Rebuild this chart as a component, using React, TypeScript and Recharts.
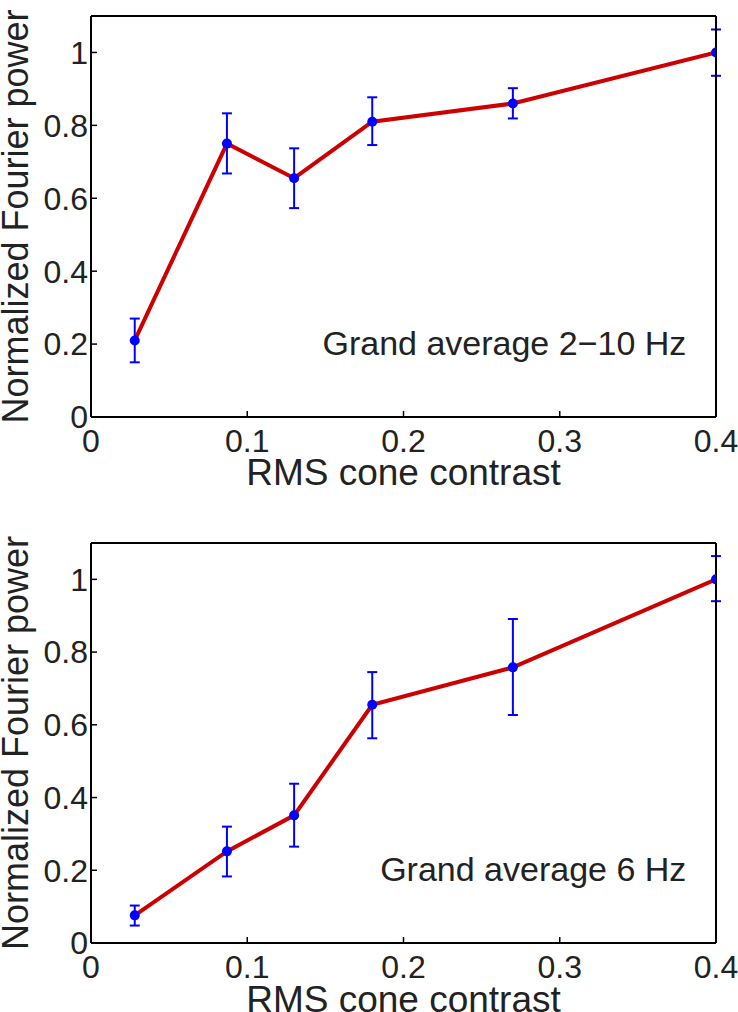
import React from "react";
import {
  ComposedChart,
  Line,
  Scatter,
  ErrorBar,
  XAxis,
  YAxis,
  ReferenceDot,
  Label,
} from "recharts";

// RMS cone contrast levels (shared by both panels)
const contrast = [0.028, 0.087, 0.13, 0.18, 0.27, 0.4];

// Grand average 2-10 Hz
const powerBroad = [0.21, 0.75, 0.655, 0.81, 0.86, 1.0];
const lowerBroad = [0.15, 0.668, 0.573, 0.746, 0.819, 0.936];
const upperBroad = [0.27, 0.833, 0.737, 0.877, 0.902, 1.063];

// Grand average 6 Hz
const power6 = [0.076, 0.252, 0.351, 0.655, 0.758, 1.0];
const lower6 = [0.048, 0.183, 0.265, 0.563, 0.627, 0.94];
const upper6 = [0.103, 0.32, 0.438, 0.745, 0.891, 1.064];

const xTicks = [0, 0.1, 0.2, 0.3, 0.4];
const yTicks = [0, 0.2, 0.4, 0.6, 0.8, 1];

const RED = "#cc0000";
const BLUE = "#0000ff";
const INK = "#222";

function buildRows(power: number[], lower: number[], upper: number[]) {
  return contrast.map((x, i) => ({
    x,
    y: power[i],
    err: [power[i] - lower[i], upper[i] - power[i]],
  }));
}

const axisStroke = { stroke: "#000", strokeWidth: 2 };
const tickStroke = { stroke: "#000", strokeWidth: 1.5 };
const tickText = { fill: INK, fontSize: 32 };

type PanelProps = {
  rows: { x: number; y: number; err: number[] }[];
  note: string;
  height: number;
  top: number;
  axisHeight: number;
  labelOffset: number;
};

function Panel({ rows, note, height, top, axisHeight, labelOffset }: PanelProps) {
  return (
    <ComposedChart
      width={738}
      height={height}
      data={rows}
      margin={{ top: top - 1, right: 21, bottom: 0, left: 0 }}
    >
      <XAxis
        type="number"
        dataKey="x"
        domain={[0, 0.4]}
        ticks={xTicks}
        allowDataOverflow
        height={axisHeight}
        tickSize={-6}
        tickMargin={18}
        axisLine={axisStroke}
        tickLine={tickStroke}
        tick={tickText}
      >
        <Label
          content={(p: any) => {
            const vb = p.viewBox;
            return (
              <text
                x={vb.x + vb.width / 2}
                y={vb.y + labelOffset}
                textAnchor="middle"
                fontSize={37}
                fill={INK}
              >
                RMS cone contrast
              </text>
            );
          }}
        />
      </XAxis>
      <XAxis
        xAxisId="top"
        orientation="top"
        type="number"
        domain={[0, 0.4]}
        ticks={xTicks}
        allowDataOverflow
        height={1}
        tickSize={-6}
        axisLine={axisStroke}
        tickLine={tickStroke}
        tick={false}
      />
      <YAxis
        type="number"
        domain={[0, 1.1]}
        ticks={yTicks}
        allowDataOverflow
        width={91}
        tickSize={-6}
        tickMargin={9}
        axisLine={axisStroke}
        tickLine={tickStroke}
        tick={tickText}
      >
        <Label
          content={(p: any) => {
            const vb = p.viewBox;
            const cx = vb.x + 28;
            const cy = vb.y + vb.height / 2;
            return (
              <text
                x={cx}
                y={cy}
                transform={`rotate(-90 ${cx} ${cy})`}
                textAnchor="middle"
                fontSize={36}
                fill={INK}
              >
                Normalized Fourier power
              </text>
            );
          }}
        />
      </YAxis>
      <YAxis
        yAxisId="right"
        orientation="right"
        type="number"
        domain={[0, 1.1]}
        ticks={yTicks}
        allowDataOverflow
        width={1}
        tickSize={-6}
        axisLine={axisStroke}
        tickLine={tickStroke}
        tick={false}
      />
      <Line
        dataKey="y"
        type="linear"
        stroke={RED}
        strokeWidth={4}
        dot={false}
        activeDot={false}
        isAnimationActive={false}
      />
      <Scatter
        dataKey="y"
        fill={BLUE}
        isAnimationActive={false}
        shape={(p: any) => <circle cx={p.cx} cy={p.cy} r={5} fill={BLUE} />}
      >
        <ErrorBar
          dataKey="err"
          direction="y"
          width={5}
          stroke={BLUE}
          strokeWidth={2}
          isAnimationActive={false}
        />
      </Scatter>
      <ReferenceDot
        x={0.381}
        y={0.17}
        r={1}
        fill="none"
        stroke="none"
        label={
          <Label
            content={(p: any) => {
              const vb = p.viewBox;
              return (
                <text
                  x={vb.x + (vb.width || 0) / 2}
                  y={vb.y + (vb.height || 0) / 2}
                  textAnchor="end"
                  fontSize={34}
                  fill={INK}
                >
                  {note}
                </text>
              );
            }}
          />
        }
      />
    </ComposedChart>
  );
}

export default function App() {
  return (
    <div
      style={{
        position: "absolute",
        left: 0,
        top: 0,
        width: 738,
        height: 1012,
        background: "#fff",
        fontFamily: "'Liberation Sans', Arial, sans-serif",
        overflow: "hidden",
      }}
    >
      <Panel
        rows={buildRows(powerBroad, lowerBroad, upperBroad)}
        note="Grand average 2−10 Hz"
        height={506}
        top={16}
        axisHeight={89}
        labelOffset={68}
      />
      <Panel
        rows={buildRows(power6, lower6, upper6)}
        note="Grand average 6 Hz"
        height={506}
        top={37}
        axisHeight={69}
        labelOffset={69}
      />
    </div>
  );
}
